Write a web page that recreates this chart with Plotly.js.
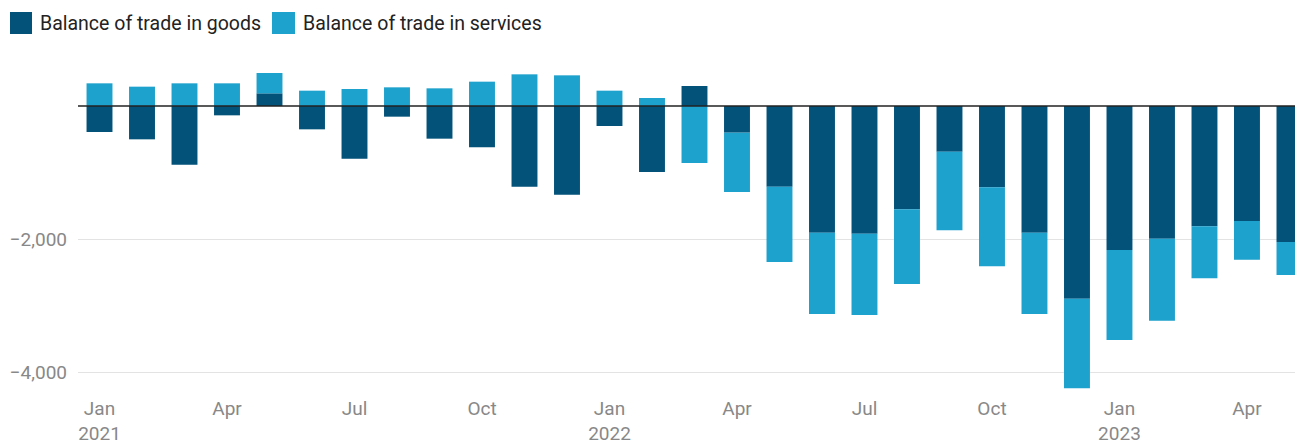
<!DOCTYPE html>
<html>
<head>
<meta charset="utf-8">
<script src="https://cdn.plot.ly/plotly-3.0.1.min.js"></script>
<style>html,body{margin:0;padding:0;background:#fff;}#chart{width:1295px;height:441px;}</style>
</head>
<body>
<div id="chart"></div>
<script>
const months = ["Jan 2021","Feb 2021","Mar 2021","Apr 2021","May 2021","Jun 2021","Jul 2021","Aug 2021","Sep 2021","Oct 2021","Nov 2021","Dec 2021",
  "Jan 2022","Feb 2022","Mar 2022","Apr 2022","May 2022","Jun 2022","Jul 2022","Aug 2022","Sep 2022","Oct 2022","Nov 2022","Dec 2022",
  "Jan 2023","Feb 2023","Mar 2023","Apr 2023","May 2023"];
const goods = [-390,-500,-880,-140,190,-350,-790,-160,-490,-620,-1210,-1330,
  -300,-990,300,-400,-1210,-1900,-1915,-1550,-685,-1220,-1900,-2890,
  -2160,-1990,-1805,-1725,-2040];
const services = [340,290,340,340,305,230,255,280,265,365,475,460,
  230,120,-855,-890,-1130,-1220,-1220,-1120,-1180,-1185,-1220,-1345,
  -1350,-1230,-780,-580,-495];
const seriesNames = ["Balance of trade in goods","Balance of trade in services"];
const tickMonths = ["Jan 2021","Apr 2021","Jul 2021","Oct 2021","Jan 2022","Apr 2022","Jul 2022","Oct 2022","Jan 2023","Apr 2023"];
const tickLabels = ["Jan<br>2021","Apr","Jul","Oct","Jan<br>2022","Apr","Jul","Oct","Jan<br>2023","Apr"];
const yTickVals = [-4000,-2000];
const yTickText = ["\u22124,000","\u22122,000"];

const cDark = "#02527a", cLight = "#1da1cd";
const L = 78, T = 55, W = 1295 - L, H = 337;
const FONT = "Roboto, 'Noto Sans', sans-serif";

const traces = [
  {type:"bar", x:months, y:goods, name:seriesNames[0], marker:{color:cDark}, showlegend:false, hoverinfo:"x+y+name"},
  {type:"bar", x:months, y:services, name:seriesNames[1], marker:{color:cLight}, showlegend:false, hoverinfo:"x+y+name"}
];

const layout = {
  width:1295, height:441,
  margin:{l:L, r:0, t:T, b:441-T-H, pad:0},
  paper_bgcolor:"#fff", plot_bgcolor:"#fff",
  barmode:"relative", bargap:0.39,
  font:{family:FONT, size:19, color:"#888"},
  xaxis:{type:"category", range:[-0.506, 28.13], tickmode:"array", tickvals:tickMonths, ticktext:tickLabels,
    showgrid:false, zeroline:false, showline:false, ticks:"", tickfont:{size:19, color:"#888"}, ticklabelstandoff:3, fixedrange:true},
  yaxis:{range:[-4290, 765], tickmode:"array", tickvals:yTickVals, ticktext:yTickText,
    showgrid:true, gridcolor:"#e3e3e3", gridwidth:1, zeroline:false, showline:false, ticks:"",
    tickfont:{size:19, color:"#888"}, ticklabelstandoff:10, fixedrange:true},
  shapes:[
    {type:"line", xref:"paper", yref:"y", x0:0, x1:1, y0:0, y1:0, line:{color:"#222", width:1.5}, layer:"above"},
    {type:"rect", xref:"paper", yref:"paper", xsizemode:"pixel", ysizemode:"pixel", xanchor:0, yanchor:1,
      x0:10-L, x1:32-L, y0:T-34, y1:T-12, fillcolor:cDark, line:{width:0}},
    {type:"rect", xref:"paper", yref:"paper", xsizemode:"pixel", ysizemode:"pixel", xanchor:0, yanchor:1,
      x0:272-L, x1:295-L, y0:T-34, y1:T-12, fillcolor:cLight, line:{width:0}}
  ],
  annotations:[
    {xref:"paper", yref:"paper", x:(38-L)/W, y:1+(T-23)/H, xanchor:"left", yanchor:"middle", showarrow:false,
      text:seriesNames[0], font:{family:FONT, size:19.5, color:"#222"}},
    {xref:"paper", yref:"paper", x:(301-L)/W, y:1+(T-23)/H, xanchor:"left", yanchor:"middle", showarrow:false,
      text:seriesNames[1], font:{family:FONT, size:19.5, color:"#222"}}
  ],
  showlegend:false
};
Plotly.newPlot("chart", traces, layout, {displayModeBar:false, staticPlot:true});
</script>
</body>
</html>
